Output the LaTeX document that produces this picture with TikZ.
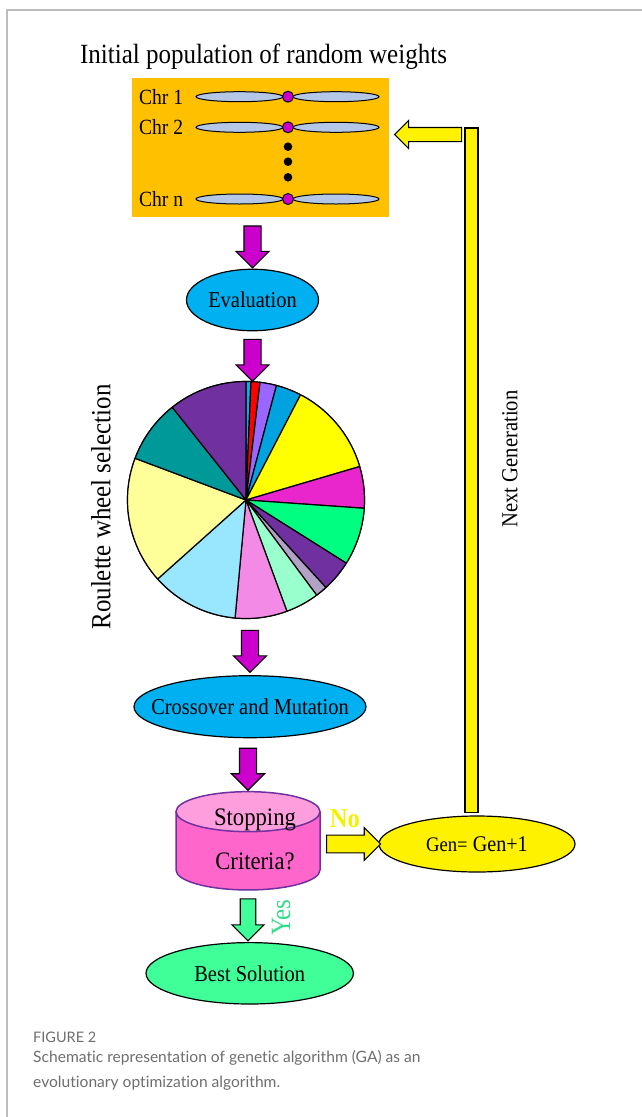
\documentclass[tikz,border=0pt]{standalone}
\usepackage{fontspec}
\setmainfont{Liberation Serif}[FakeStretch=0.9]
\newfontfamily\capfont{Lato}[Ligatures=NoCommon]
\usepackage{xcolor}
\definecolor{gaorange}{HTML}{FFC000}
\definecolor{gachrom}{HTML}{B4C7E7}
\definecolor{gamag}{HTML}{CC00CC}
\definecolor{gablue}{HTML}{00B0F0}
\definecolor{gapink}{HTML}{FF66CC}
\definecolor{gapinklt}{HTML}{FF9EDD}
\definecolor{gapurple}{HTML}{7030A0}
\definecolor{gagreen}{HTML}{40FF99}
\definecolor{gayes}{HTML}{33DD88}
\definecolor{gano}{HTML}{F2F200}
\definecolor{gagray}{HTML}{6E6E6E}
\definecolor{garule}{HTML}{BDBDBD}
% wheel colours
\definecolor{wcyan}{HTML}{00B0F0}
\definecolor{wred}{HTML}{FF0000}
\definecolor{wviolet}{HTML}{9966FF}
\definecolor{wblue}{HTML}{00A3E0}
\definecolor{wyellow}{HTML}{FFFF00}
\definecolor{wmagenta}{HTML}{E826CC}
\definecolor{wgreen}{HTML}{00FF80}
\definecolor{wpurple}{HTML}{7030A0}
\definecolor{wlilac}{HTML}{B3A2C7}
\definecolor{wmint}{HTML}{99FFCC}
\definecolor{wpink}{HTML}{F28AE6}
\definecolor{wsky}{HTML}{99E6FF}
\definecolor{wcream}{HTML}{FFFF99}
\definecolor{wteal}{HTML}{009999}
\usepackage{tikz}
\usetikzlibrary{shapes.geometric,shapes.arrows,calc}
\newcommand{\zw}[1]{\makebox[0pt]{#1}}
\tikzset{
  figrule/.style={draw=garule, line width=2pt},
  big/.style={font=\fontsize{27.8}{32}\selectfont},
  popbox/.style={fill=gaorange, minimum width=257.5, minimum height=138.5, inner sep=0pt},
  chrlab/.style={anchor=west, inner sep=0pt, font=\fontsize{21.7}{25}\selectfont},
  chrom/.style={draw=black, fill=gachrom, line width=1pt},
  cent/.style={draw=black, fill=gamag, line width=1pt},
  nb/.style={draw, ellipse, line width=1.2pt, inner sep=0pt,
             font=\fontsize{22.7}{26}\selectfont},
  nblue/.style={nb, fill=gablue},
  nyellow/.style={nb, fill=yellow},
  ngreen/.style={nb, fill=gagreen},
  wheelc/.style={circle, draw, line width=1.2pt, minimum size=237, inner sep=0pt},
  wedge/.style={draw=black, line width=1.2pt, line join=round},
  cylbox/.style={minimum width=144, minimum height=98.3, inner sep=0pt, outer sep=0pt},
  cyl/.style={draw=gapurple, line width=1.5pt},
  cyltext/.style={align=center, inner sep=0pt, font=\fontsize{25.2}{44.3}\selectfont},
  ba/.style={single arrow, draw=black, line width=1.1pt, inner xsep=0pt},
  marr/.style={ba, fill=gamag, minimum height=42, inner ysep=8,
               single arrow head extend=8, rotate=-90},
  garr/.style={ba, fill=gagreen, minimum height=42, inner ysep=7.2,
               single arrow head extend=8.2, rotate=-90},
  yarr/.style={ba, fill=yellow, minimum height=54, inner ysep=8.3,
               single arrow head extend=7.5},
  yarrl/.style={ba, fill=yellow, minimum height=67, inner ysep=6.5,
                single arrow head extend=7, rotate=180},
  ybar/.style={draw=black, fill=yellow, line width=1.1pt},
  side/.style={rotate=90, inner sep=0pt},
  capline/.style={anchor=base west, inner sep=0pt, text=gagray,
                  font=\capfont\fontsize{15.6}{20}\selectfont},
}

\begin{document}
\begin{tikzpicture}[x=1pt, y=-1pt]
  \useasboundingbox (0,0) rectangle (642,1117);
  \draw[figrule] (6.5,1117) -- (6.5,9.5) -- (642,9.5);

  % population of chromosomes
  \node[big, anchor=base] (title) at (263.5,63) {Initial population of random weights};
  \node[popbox] (pop) at (260.25,147.25) {};
  \foreach \yy/\nn in {96.7/1, 127.3/2, 199/n} {
    \node[chrlab] (chr\nn) at (139,\yy) {Chr \nn};
    \draw[chrom] (239.5,\yy) ellipse [x radius=43.5, y radius=5];
    \draw[chrom] (336,\yy) ellipse [x radius=43, y radius=5];
    \draw[cent] (288,\yy) circle [radius=5.5];
  }
  \foreach \yy in {146.7,161.7,177.3}
    \fill (288,\yy) circle [radius=4.3];

  \node[nblue, minimum width=132, minimum height=61.5] (eval) at (252.5,300) {\zw{Evaluation}};
  \path (eval.north |- pop.south) -- node[marr] {} (eval.north);

  % roulette wheel
  \node[wheelc] (wheel) at (246,500) {};
  \begin{scope}[shift={(wheel.center)}, x=1pt, y=1pt]
    \foreach \a/\b/\col in {90/87.6/wcyan, 87.6/83.2/wred, 83.2/75.1/wviolet,
        75.1/62.6/wblue, 62.6/16.4/wyellow, 16.4/-4/wmagenta, -4/-32.2/wgreen,
        -32.2/-47.6/wpurple, -47.6/-53.4/wlilac, -53.4/-69.8/wmint,
        -69.8/-95.3/wpink, -95.3/-138.2/wsky, -138.2/-200.6/wcream,
        -200.6/-231.5/wteal, -231.5/-270/wpurple}
      \draw[wedge, fill=\col] (0,0) -- (\a:118.5) arc [start angle=\a, end angle=\b, radius=118.5] -- cycle;
  \end{scope}
  \node[side, font=\fontsize{27.7}{32}\selectfont] (roul) at (101,507) {Roulette wheel selection};
  \path (eval.south) -- node[marr] {} (eval.south |- wheel.north);

  \node[nblue, minimum width=232, minimum height=62] (cross) at (250,706.7) {\zw{Crossover and Mutation}};
  \path (cross.north |- wheel.south) -- node[marr] {} (cross.north);

  % stopping test
  \node[cylbox] (stop) at (248,840.8) {};
  \fill[gapink] ($(stop.north west)+(0,20)$) -- ($(stop.south west)+(0,-20)$)
    arc [start angle=180, end angle=0, x radius=72, y radius=20] -- ($(stop.north east)+(0,20)$) -- cycle;
  \draw[cyl] ($(stop.north west)+(0,20)$) -- ($(stop.south west)+(0,-20)$)
    arc [start angle=180, end angle=0, x radius=72, y radius=20] -- ($(stop.north east)+(0,20)$);
  \draw[cyl, fill=gapinklt] ($(stop.north)+(0,20)$) ellipse [x radius=72, y radius=20];
  \node[cyltext] (crit) at ($(stop)+(7,-1.5)$) {Stopping\\Criteria?};
  \path (stop.north |- cross.south) -- node[marr] {} (stop.north);

  \node[nyellow, minimum width=196, minimum height=56, font=\fontsize{22.4}{26}\selectfont] (gen) at (477,844)
    {\zw{{\fontsize{20.7}{24}\selectfont Gen=} Gen+1}};
  \path (stop.east |- gen.west) -- node[yarr] {} (gen.west);
  \node[inner sep=0pt, text=gano, font=\bfseries\fontsize{27.3}{30}\selectfont] (no) at (345,819) {No};

  \node[ngreen, minimum width=207.4, minimum height=61.4] (best) at (249.7,973.3) {\zw{Best Solution}};
  \path (stop.south) -- node[garr] {} (stop.south |- best.north);
  \node[side, text=gayes, font=\fontsize{27.9}{30}\selectfont] (yes) at (281,917.5) {Yes};

  % next generation loop
  \coordinate (fbot) at ($(gen.north)+(-5.5,-3.3)$);
  \coordinate (ftop) at (471.5,128);
  \draw[ybar] ($(fbot)+(-6.5,0)$) rectangle ($(ftop)+(6.5,0)$);
  \coordinate (fa) at ($(ftop)+(-6.5,6.5)$);
  \path (fa) -- node[yarrl, pos=.44] {} (fa -| pop.east);
  \node[side, font=\fontsize{22.9}{26}\selectfont] (nextgen) at (510,459) {Next Generation};

  % caption
  \node[capline, font=\capfont\fontsize{14.5}{18}\selectfont] (fig) at (33,1042) {FIGURE 2};
  \node[capline] (cap1) at (33,1062) {Schematic representation of genetic algorithm (GA) as an};
  \node[capline] (cap2) at (33,1087.3) {evolutionary optimization algorithm.};
\end{tikzpicture}
\end{document}
